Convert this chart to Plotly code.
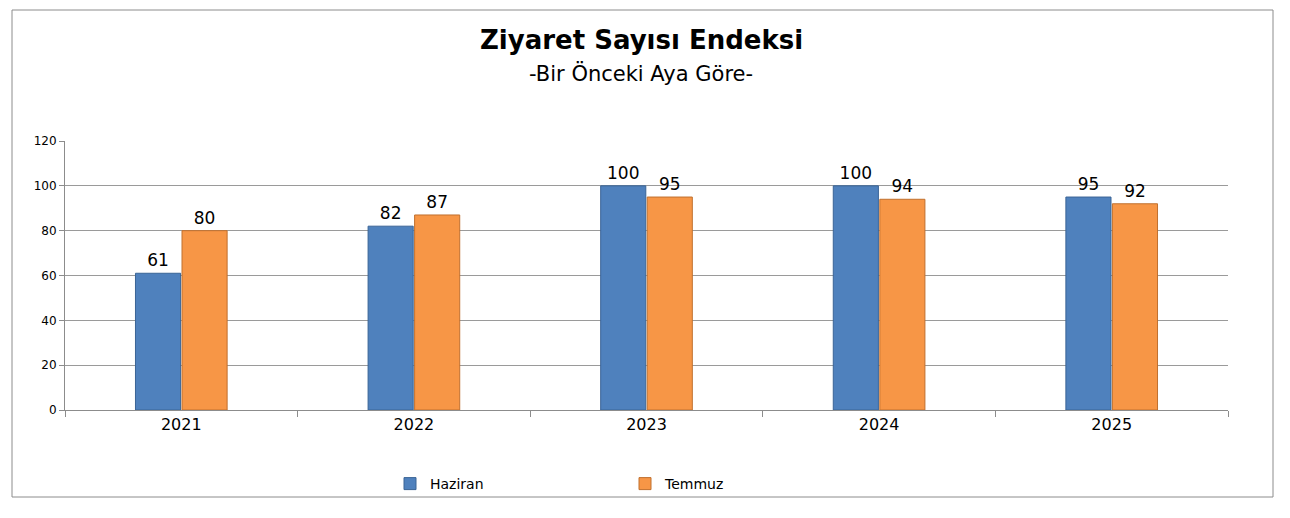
import plotly.graph_objects as go

years = ["2021", "2022", "2023", "2024", "2025"]
haziran = [61, 82, 100, 100, 95]
temmuz = [80, 87, 95, 94, 92]

fig = go.Figure()
fig.add_bar(x=years, y=haziran, name="Haziran", marker=dict(color="#4F81BD", line=dict(color="#3A6496", width=1)),
            text=haziran, textposition="outside", textfont=dict(size=17, color="black"), cliponaxis=False)
fig.add_bar(x=years, y=temmuz, name="Temmuz", marker=dict(color="#F79646", line=dict(color="#C0702E", width=1)),
            text=temmuz, textposition="outside", textfont=dict(size=17, color="black"), cliponaxis=False)

W, H = 1290, 518
off = 8
l, r, t, b = 65 - off, 62 + off, 141 - off, 108 + off
pw, ph = W - l - r, H - t - b
py = lambda y: (H - b - (y - off)) / ph
px = lambda x: ((x - off) - l) / pw
fig.update_layout(
    width=W, height=H, margin=dict(l=l, r=r, t=t, b=b),
    paper_bgcolor="white", plot_bgcolor="white",
    font=dict(family="DejaVu Sans", color="black"),
    barmode="group", bargap=0.6, bargroupgap=0.03,
    showlegend=True,
    legend=dict(orientation="h", x=px(625), xanchor="center", y=py(484), yanchor="middle",
                font=dict(size=14), bgcolor="rgba(0,0,0,0)", entrywidth=190, itemwidth=30),
    yaxis=dict(range=[0, 120], dtick=20, showgrid=True, gridcolor="#9A9A9A", gridwidth=1,
               showline=True, linecolor="#8C8C8C", ticks="outside", ticklen=5, tickcolor="#8C8C8C",
               tickfont=dict(size=12), zeroline=False),
    xaxis=dict(showline=True, linecolor="#8C8C8C", ticks="outside", tickson="boundaries", ticklen=6,
               tickcolor="#8C8C8C", tickfont=dict(size=16)),
    shapes=[dict(type="rect", xref="paper", yref="paper",
                 x0=px(12), x1=px(1273), y0=py(497), y1=py(10),
                 line=dict(color="#8C8C8C", width=1), layer="below")],
    annotations=[
        dict(text="<b>Ziyaret Sayısı Endeksi</b>", xref="paper", yref="paper", x=px(641),
             y=py(40), showarrow=False, font=dict(size=26), yanchor="middle"),
        dict(text="-Bir Önceki Aya Göre-", xref="paper", yref="paper", x=px(641),
             y=py(73), showarrow=False, font=dict(size=21), yanchor="middle"),
    ],
)
fig.write_html("out.html")
